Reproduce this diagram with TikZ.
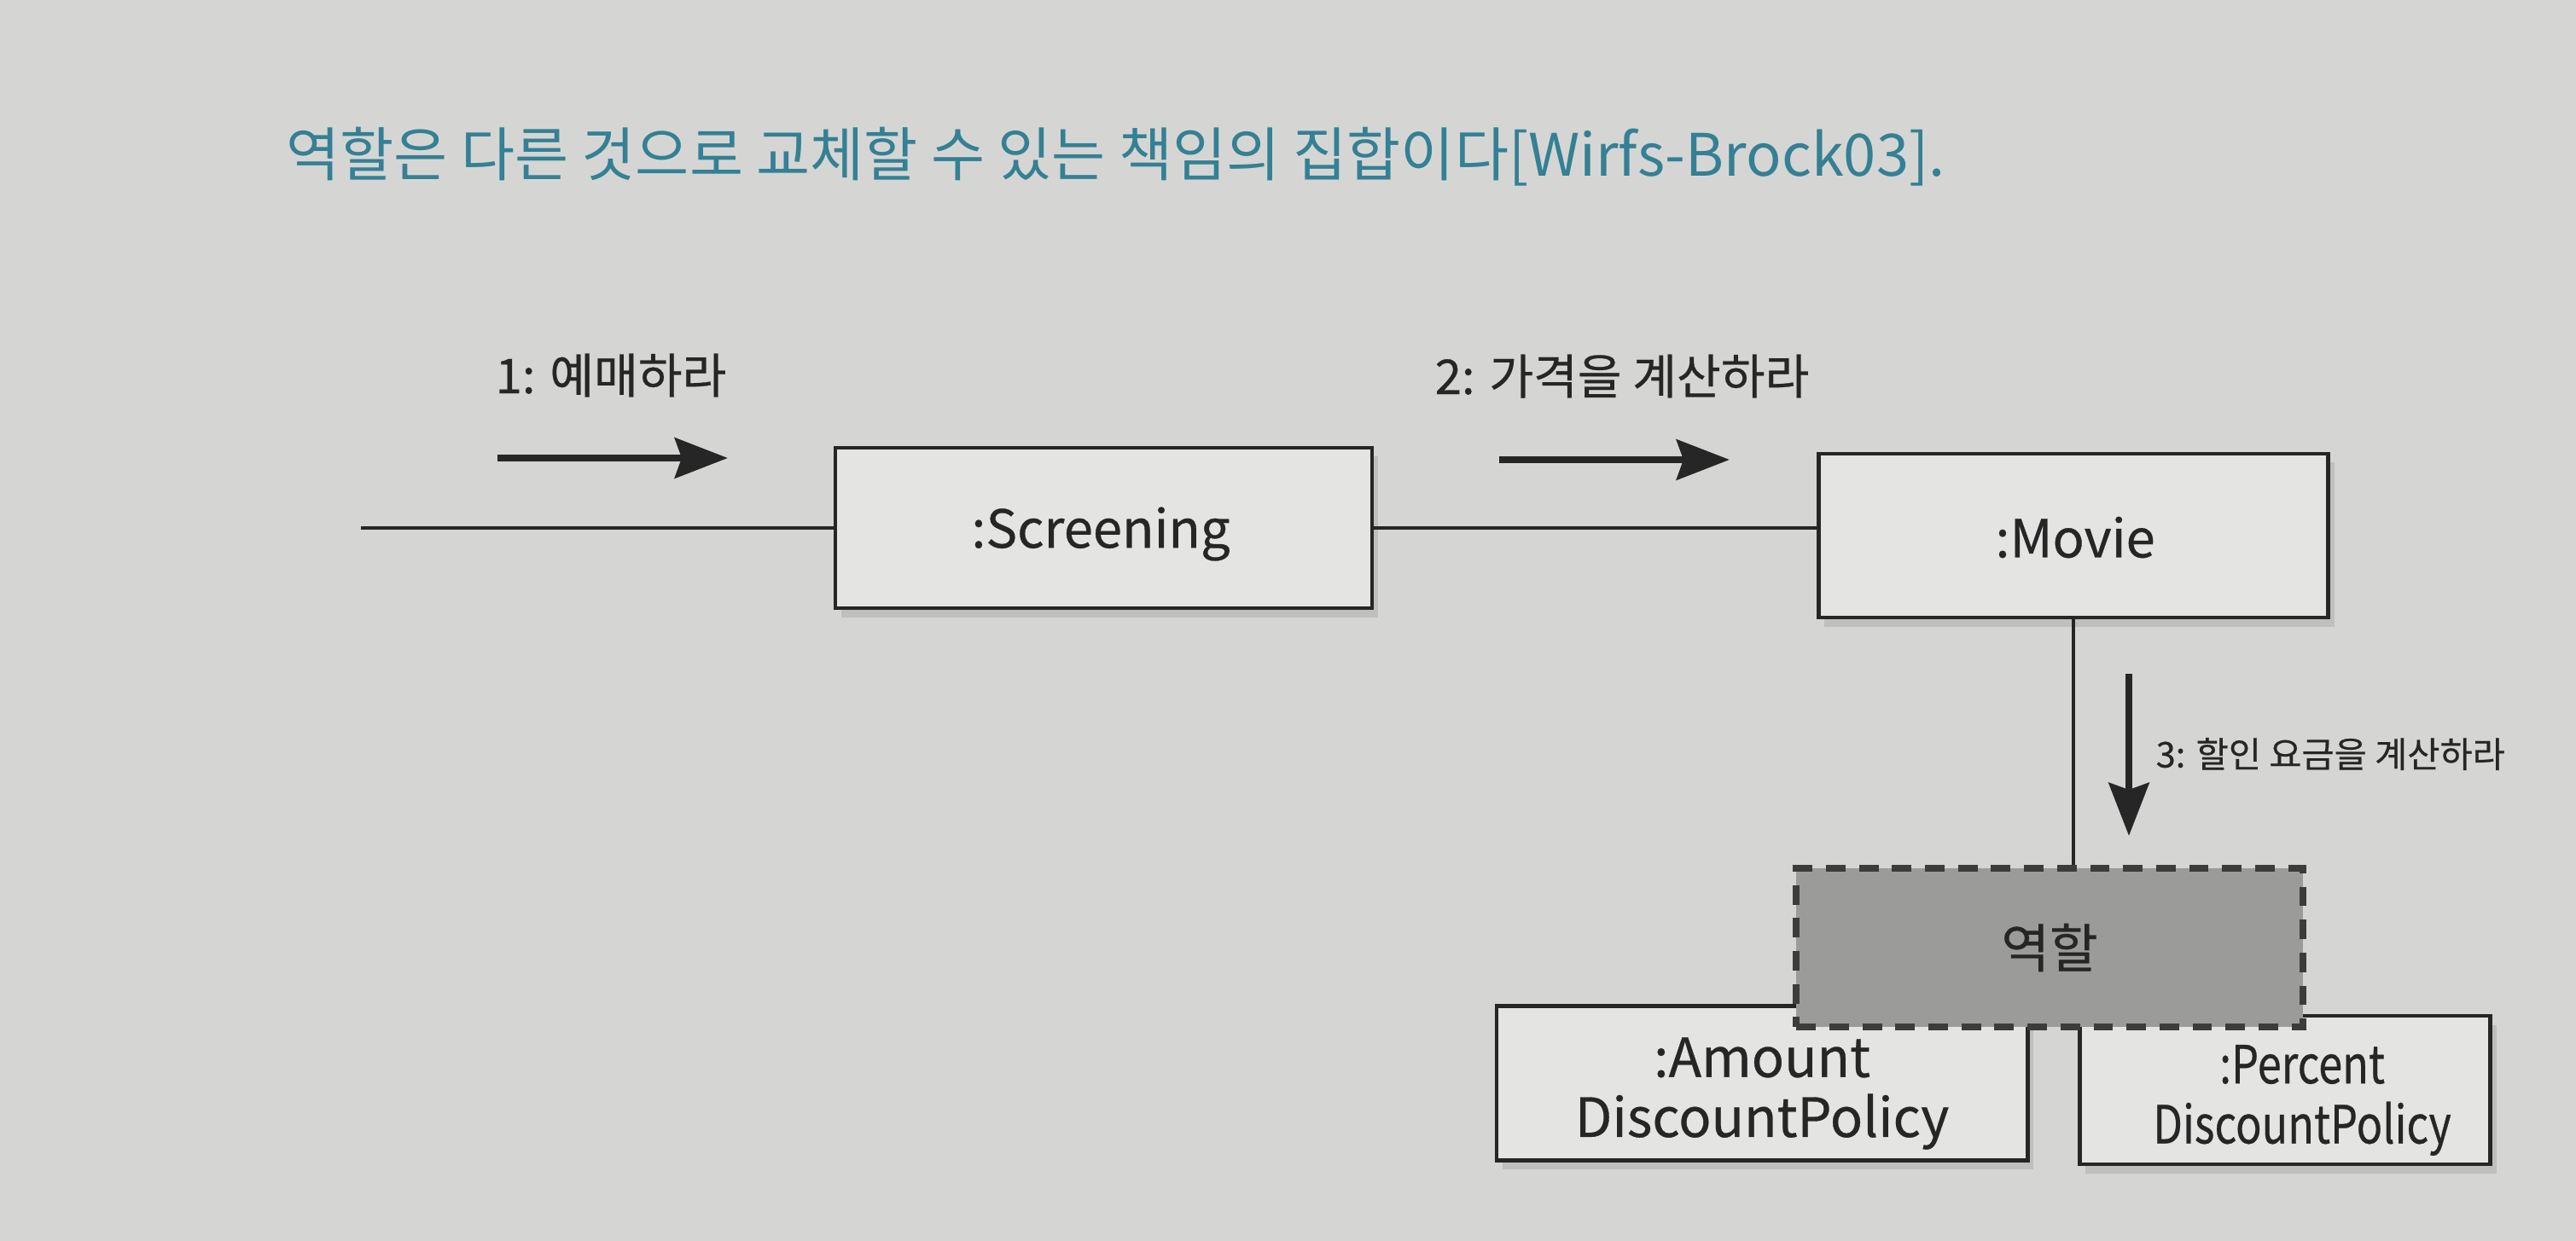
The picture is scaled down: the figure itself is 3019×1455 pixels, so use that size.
\documentclass[tikz,border=0pt]{standalone}
\usepackage{fontspec}
\setmainfont{Noto Sans CJK KR}
\newfontfamily\medfont[FakeBold=0.5]{Noto Sans CJK KR}
\usetikzlibrary{arrows.meta,shadows}
\definecolor{bg}{RGB}{213,214,212}
\definecolor{boxfill}{RGB}{228,229,227}
\definecolor{rolefill}{RGB}{155,156,154}
\definecolor{ink}{RGB}{38,38,38}
\definecolor{teal}{RGB}{52,128,148}
\tikzset{
  objbox/.style={draw=ink, line width=1.3pt, fill=boxfill,
    drop shadow={opacity=0.25, shadow xshift=2pt, shadow yshift=-3pt}},
  objtext/.style={align=center, font=\medfont\fontsize{17.5}{20}\selectfont, text=ink, inner sep=0pt},
  rolebox/.style={draw=ink!90, line width=2.2pt, dash pattern=on 6.5pt off 4.5pt, fill=rolefill,
    font=\medfont\fontsize{17.5}{21}\selectfont, text=ink},
  conn/.style={draw=ink, line width=1.3pt},
  msgarrow/.style={draw=ink, line width=2.4pt, -{Stealth[length=0.62cm, width=0.47cm, inset=0.08cm]}},
  msglabel/.style={font=\medfont\fontsize{16}{19}\selectfont, text=ink, inner sep=0pt},
}
\begin{document}
\begin{tikzpicture}[x=0.01cm, y=-0.01cm]
\fill[bg] (0,0) rectangle (3019,1455);
\useasboundingbox (0,0) rectangle (3019,1455);

\node[anchor=west, text=teal, font=\fontsize{19.5}{24}\selectfont, inner sep=0pt] (title) at (335,184)
  {역할은 다른 것으로 교체할 수 있는 책임의 집합이다[Wirfs-Brock03].};

\node[objbox, minimum width=6.29cm, minimum height=1.88cm] (scr) at (1293.5,619) {};
\node[objtext] (scrt) at (1290,626) {:Screening};
\node[objbox, minimum width=5.97cm, minimum height=1.92cm] (mov) at (2430,628) {};
\node[objtext] (movt) at (2432,630) {:Movie};
\node[objbox, minimum width=6.22cm, minimum height=1.81cm] (amt) at (2065,1270) {};
\node[objtext, font=\medfont\fontsize{18}{20}\selectfont] (amtt) at (2065,1282) {:Amount\\DiscountPolicy};
\node[objbox, minimum width=4.81cm, minimum height=1.74cm] (pct) at (2678,1278) {};
\node[objtext] (pctt) at (2698,1290) {\scalebox{0.82}[1]{:Percent}\\\scalebox{0.82}[1]{DiscountPolicy}};
\node[rolebox, minimum width=5.93cm, minimum height=1.86cm] (role) at (2402,1111) {역할};

\coordinate (in) at (423,619);
\draw[conn] (in) -- (scr.west);
\draw[conn] (scr.east) -- (scr.east -| mov.west);
\draw[conn] (mov.south) -- (mov.south |- role.north);

\coordinate (a1s) at (583,537);
\coordinate (a1e) at (853,537);
\draw[msgarrow] (a1s) -- (a1e);
\node[msglabel] (l1) at (716,440) {1: 예매하라};

\coordinate (a2s) at (1757,539);
\coordinate (a2e) at (2027,539);
\draw[msgarrow] (a2s) -- (a2e);
\node[msglabel] (l2) at (1901,441) {2: 가격을 계산하라};

\coordinate (a3s) at (2495,790);
\coordinate (a3e) at (2495,980);
\draw[msgarrow] (a3s) -- (a3e);
\node[msglabel, anchor=west, font=\medfont\fontsize{11.8}{15}\selectfont] (l3) at (2526,884) {3: 할인 요금을 계산하라};
\end{tikzpicture}
\end{document}
